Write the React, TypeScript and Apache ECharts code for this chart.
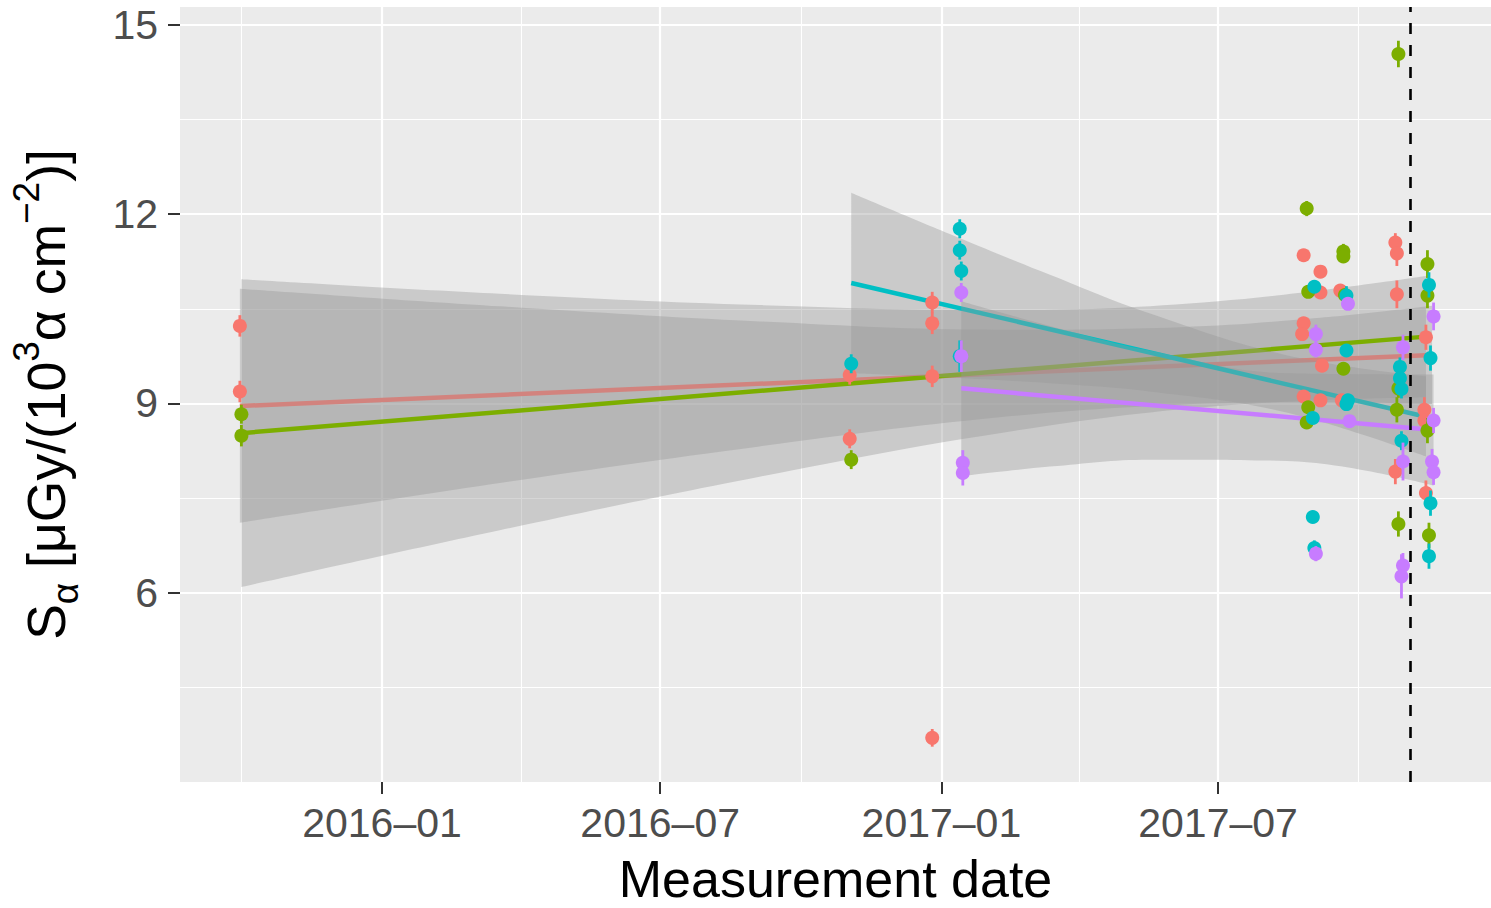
import React, { useEffect, useRef } from 'react';
import * as echarts from 'echarts';

const FONT = "'Liberation Sans', Arial, Helvetica, sans-serif";
const COLORS = ['#F8766D', '#7CAE00', '#00BFC4', '#C77CFF'];

// Axis ranges and ticks
const xMin = '2015-08-21T20';
const xMax = '2017-12-26T14';
const xTickDates = ['2016-01-01', '2016-07-01', '2017-01-01', '2017-07-01'];
const xTickLabels = ['2016–01', '2016–07', '2017–01', '2017–07'];
const xMinorDates = ['2015-10-01', '2016-04-01', '2016-10-01', '2017-04-01', '2017-10-01'];
const yMin = 3;
const yMax = 15.285;
const yTicks = [6, 9, 12, 15];
const cutoffDate = '2017-11-04';

// Group 1 (red)
const redDates = ['2015-09-30', '2015-09-30', '2016-11-02', '2016-11-02', '2016-12-26', '2016-12-26', '2016-12-26', '2016-12-26', '2017-08-26', '2017-09-06', '2017-09-06', '2017-09-19', '2017-08-26', '2017-08-25', '2017-09-07', '2017-08-26', '2017-09-06', '2017-09-20', '2017-10-25', '2017-10-26', '2017-10-26', '2017-10-25', '2017-11-14', '2017-11-13', '2017-11-13', '2017-11-14'];
const redValues = [10.23, 9.19, 9.45, 8.44, 10.6, 10.27, 9.43, 3.7, 11.35, 11.09, 10.76, 10.79, 10.27, 10.1, 9.6, 9.11, 9.05, 9.05, 11.55, 11.38, 10.73, 7.92, 10.05, 8.9, 8.73, 7.58];
const redErrors = [0.17, 0.17, 0.15, 0.15, 0.17, 0.17, 0.17, 0.14, 0.06, 0.06, 0.06, 0.06, 0.06, 0.06, 0.06, 0.06, 0.06, 0.06, 0.15, 0.2, 0.22, 0.2, 0.2, 0.2, 0.2, 0.2];
const redFitDates = ['2015-09-30', '2017-11-18'];
const redFitValues = [8.96, 9.77];
const redBandDates = ['2015-09-30', '2016-03-18', '2016-09-04', '2017-02-08', '2017-06-06', '2017-09-06', '2017-11-18'];
const redBandLower = [7.11, 7.74, 8.32, 8.78, 8.98, 9.02, 8.99];
const redBandUpper = [10.82, 10.54, 10.3, 10.17, 10.21, 10.36, 10.55];

// Group 2 (green)
const greenDates = ['2015-10-01', '2015-10-01', '2016-11-03', '2017-08-28', '2017-08-29', '2017-08-29', '2017-08-28', '2017-09-21', '2017-09-21', '2017-09-22', '2017-09-21', '2017-10-27', '2017-10-27', '2017-10-26', '2017-10-27', '2017-11-15', '2017-11-15', '2017-11-15', '2017-11-16'];
const greenValues = [8.83, 8.49, 8.11, 12.09, 10.77, 8.94, 8.7, 11.41, 11.33, 10.72, 9.55, 14.54, 9.24, 8.9, 7.09, 11.21, 10.71, 8.57, 6.91];
const greenErrors = [0.15, 0.17, 0.15, 0.12, 0.08, 0.06, 0.1, 0.12, 0.1, 0.1, 0.06, 0.21, 0.15, 0.2, 0.2, 0.22, 0.2, 0.2, 0.2];
const greenFitDates = ['2015-10-01', '2017-11-14'];
const greenFitValues = [8.53, 10.06];
const greenBandDates = ['2015-10-01', '2016-03-18', '2016-09-04', '2017-02-08', '2017-07-01', '2017-11-14'];
const greenBandLower = [6.09, 6.99, 7.84, 8.53, 8.96, 9.1];
const greenBandUpper = [10.97, 10.74, 10.56, 10.48, 10.62, 11.02];

// Group 3 (cyan)
const cyanDates = ['2016-11-03', '2017-01-13', '2017-01-13', '2017-01-14', '2017-01-13', '2017-09-02', '2017-09-01', '2017-09-01', '2017-09-02', '2017-09-23', '2017-09-23', '2017-09-24', '2017-09-23', '2017-10-28', '2017-10-28', '2017-10-29', '2017-10-29', '2017-11-16', '2017-11-17', '2017-11-17', '2017-11-16'];
const cyanValues = [9.63, 11.77, 11.43, 11.1, 9.75, 10.85, 8.77, 7.2, 6.71, 10.71, 9.84, 9.05, 8.99, 9.58, 9.4, 9.23, 8.41, 10.88, 9.72, 7.42, 6.58];
const cyanErrors = [0.15, 0.15, 0.15, 0.15, 0.25, 0.06, 0.06, 0.06, 0.12, 0.15, 0.06, 0.06, 0.06, 0.15, 0.15, 0.15, 0.15, 0.2, 0.2, 0.2, 0.2];
const cyanFitDates = ['2016-11-03', '2017-11-14'];
const cyanFitValues = [10.91, 8.79];
const cyanBandDates = ['2016-11-03', '2017-01-06', '2017-03-13', '2017-05-17', '2017-08-14', '2017-11-14'];
const cyanBandLower = [9.48, 9.41, 9.32, 9.19, 8.86, 8.16];
const cyanBandUpper = [12.34, 11.69, 11.04, 10.43, 9.77, 9.43];

// Group 4 (purple)
const purpleDates = ['2017-01-14', '2017-01-14', '2017-01-15', '2017-01-15', '2017-09-03', '2017-09-03', '2017-09-03', '2017-09-24', '2017-09-25', '2017-10-30', '2017-10-30', '2017-10-30', '2017-10-29', '2017-11-19', '2017-11-19', '2017-11-18', '2017-11-19'];
const purpleValues = [10.76, 9.75, 8.06, 7.9, 10.1, 9.85, 6.62, 10.58, 8.72, 9.89, 8.08, 6.43, 6.26, 10.38, 8.73, 8.08, 7.91];
const purpleErrors = [0.15, 0.25, 0.2, 0.2, 0.15, 0.12, 0.12, 0.1, 0.06, 0.2, 0.3, 0.2, 0.35, 0.22, 0.2, 0.2, 0.2];
const purpleFitDates = ['2017-01-14', '2017-11-19'];
const purpleFitValues = [9.24, 8.58];
const purpleBandDates = ['2017-01-14', '2017-03-13', '2017-05-17', '2017-08-15', '2017-11-19'];
const purpleBandLower = [7.85, 8.0, 8.11, 8.09, 7.7];
const purpleBandUpper = [10.62, 10.23, 9.84, 9.48, 9.46];

// 'YYYY-MM-DD' or 'YYYY-MM-DDTHH' -> ms timestamp (local time)
const toTime = (s: string) => {
  const [datePart, hourPart] = s.split('T');
  const [y, m, d] = datePart.split('-').map(Number);
  return new Date(y, m - 1, d, hourPart ? Number(hourPart) : 0).getTime();
};
const xTickTimes = xTickDates.map(toTime);

type Group = {
  name: string;
  color: string;
  dates: string[];
  values: number[];
  errors: number[];
  fitDates: string[];
  fitValues: number[];
  bandDates: string[];
  bandLower: number[];
  bandUpper: number[];
};

const groups: Group[] = [
  { name: 'g1', color: COLORS[0], dates: redDates, values: redValues, errors: redErrors, fitDates: redFitDates, fitValues: redFitValues, bandDates: redBandDates, bandLower: redBandLower, bandUpper: redBandUpper },
  { name: 'g2', color: COLORS[1], dates: greenDates, values: greenValues, errors: greenErrors, fitDates: greenFitDates, fitValues: greenFitValues, bandDates: greenBandDates, bandLower: greenBandLower, bandUpper: greenBandUpper },
  { name: 'g3', color: COLORS[2], dates: cyanDates, values: cyanValues, errors: cyanErrors, fitDates: cyanFitDates, fitValues: cyanFitValues, bandDates: cyanBandDates, bandLower: cyanBandLower, bandUpper: cyanBandUpper },
  { name: 'g4', color: COLORS[3], dates: purpleDates, values: purpleValues, errors: purpleErrors, fitDates: purpleFitDates, fitValues: purpleFitValues, bandDates: purpleBandDates, bandLower: purpleBandLower, bandUpper: purpleBandUpper },
];

function buildOption(): any {
  const series: any[] = [];

  const gridLines = [
    ...xTickDates.map((d) => ({ xAxis: toTime(d), lineStyle: { width: 2.2 } })),
    ...xMinorDates.map((d) => ({ xAxis: toTime(d), lineStyle: { width: 1.1 } })),
  ];

  groups.forEach((g, gi) => {
    const bandZ = 2 + gi * 2;
    const lower: any = {
      type: 'line',
      name: g.name + '-band-lower',
      xAxisIndex: 0,
      z: bandZ,
      stack: g.name + '-band',
      data: g.bandDates.map((d, i) => [toTime(d), g.bandLower[i]]),
      smooth: 0.4,
      symbol: 'none',
      lineStyle: { width: 0, opacity: 0 },
      silent: true,
    };
    if (gi === 0) {
      lower.markLine = {
        silent: true,
        z: 1,
        symbol: ['none', 'none'],
        label: { show: false },
        lineStyle: { color: '#FFFFFF', type: 'solid' },
        emphasis: { disabled: true },
        data: gridLines,
      };
    }
    series.push(lower);
    series.push({
      type: 'line',
      name: g.name + '-band',
      xAxisIndex: 0,
      z: bandZ,
      stack: g.name + '-band',
      data: g.bandDates.map((d, i) => [toTime(d), g.bandUpper[i] - g.bandLower[i]]),
      smooth: 0.4,
      symbol: 'none',
      lineStyle: { width: 0, opacity: 0 },
      areaStyle: { color: '#999999', opacity: 0.4 },
      silent: true,
    });
    series.push({
      type: 'line',
      name: g.name + '-fit',
      xAxisIndex: 0,
      z: bandZ + 1,
      data: g.fitDates.map((d, i) => [toTime(d), g.fitValues[i]]),
      symbol: 'none',
      lineStyle: { color: g.color, width: 4.5 },
      silent: true,
    });
  });

  groups.forEach((g, gi) => {
    const color = g.color;
    series.push({
      type: 'custom',
      name: g.name + '-err',
      xAxisIndex: 0,
      z: 20 + gi * 2,
      data: g.dates.map((d, i) => [toTime(d), g.values[i] - g.errors[i], g.values[i] + g.errors[i]]),
      encode: { x: 0, y: [1, 2] },
      silent: true,
      renderItem: (params: any, api: any) => {
        const x = api.value(0);
        const lo = api.coord([x, api.value(1)]);
        const hi = api.coord([x, api.value(2)]);
        return {
          type: 'line',
          shape: { x1: lo[0], y1: lo[1], x2: hi[0], y2: hi[1] },
          style: { stroke: color, lineWidth: 2.8 },
        };
      },
    });
    const pts: any = {
      type: 'scatter',
      name: g.name,
      xAxisIndex: 0,
      z: 21 + gi * 2,
      data: g.dates.map((d, i) => [toTime(d), g.values[i]]),
      symbol: 'circle',
      symbolSize: 14,
      itemStyle: { color, opacity: 1 },
      silent: true,
    };
    if (gi === groups.length - 1) {
      pts.markLine = {
        silent: true,
        z: 40,
        symbol: ['none', 'none'],
        label: { show: false },
        lineStyle: { color: '#000000', type: [11, 11], width: 2.6 },
        emphasis: { disabled: true },
        data: [{ xAxis: toTime(cutoffDate) }],
      };
    }
    series.push(pts);
  });

  return {
    animation: false,
    backgroundColor: '#FFFFFF',
    textStyle: { fontFamily: FONT },
    grid: {
      left: 180,
      right: 0,
      top: 7,
      bottom: 126,
      show: true,
      backgroundColor: '#EBEBEB',
      borderWidth: 0,
      containLabel: false,
      outerBoundsMode: 'none',
    },
    xAxis: [
      {
        type: 'time',
        min: toTime(xMin),
        max: toTime(xMax),
        show: false,
      },
      {
        type: 'value',
        position: 'bottom',
        min: toTime(xMin),
        max: toTime(xMax),
        name: 'Measurement date',
        nameLocation: 'middle',
        nameGap: 74,
        nameTextStyle: { fontFamily: FONT, fontSize: 52, lineHeight: 46, color: '#000000' },
        axisLine: { show: false },
        axisTick: { show: true, length: 12, lineStyle: { color: '#333333', width: 2 }, customValues: xTickTimes },
        axisLabel: {
          show: true,
          customValues: xTickTimes,
          margin: 20,
          fontFamily: FONT,
          fontSize: 41,
          color: '#4D4D4D',
          formatter: (v: number) => {
            const i = xTickTimes.indexOf(v);
            return i >= 0 ? xTickLabels[i] : '';
          },
        },
        splitLine: { show: false },
      },
    ],
    yAxis: {
      type: 'value',
      min: yMin,
      max: yMax,
      interval: 3,
      name: '{n|S}{sub|α}{n| [μGy/(10}{sup|3}{n|α cm}{sup|−2}{n|)]}',
      nameLocation: 'middle',
      nameRotate: 90,
      nameGap: 96,
      nameTextStyle: {
        fontFamily: FONT,
        fontSize: 53,
        color: '#000000',
        lineHeight: 76,
        rich: {
          n: { fontFamily: FONT, fontSize: 53.5, color: '#000000', lineHeight: 76 },
          sup: { fontFamily: FONT, fontSize: 37, color: '#000000', lineHeight: 28, verticalAlign: 'top' },
          sub: { fontFamily: FONT, fontSize: 37, color: '#000000', lineHeight: 42, verticalAlign: 'bottom' },
        },
      },
      axisLine: { show: false },
      axisTick: { show: true, length: 12, lineStyle: { color: '#333333', width: 2 }, customValues: yTicks },
      axisLabel: {
        show: true,
        customValues: yTicks,
        margin: 22,
        fontFamily: FONT,
        fontSize: 41,
        color: '#4D4D4D',
        formatter: (v: number) => (yTicks.indexOf(v) >= 0 ? String(v) : ''),
      },
      splitLine: { show: true, lineStyle: { color: '#FFFFFF', width: 2.2 } },
      minorTick: { show: false, splitNumber: 2 },
      minorSplitLine: { show: true, lineStyle: { color: '#FFFFFF', width: 1.1 } },
    },
    series,
  };
}

export default function App() {
  const ref = useRef<HTMLDivElement>(null);
  useEffect(() => {
    if (!ref.current) return;
    const chart = echarts.init(ref.current, undefined, { renderer: 'svg' });
    chart.setOption(buildOption());
    return () => {
      chart.dispose();
    };
  }, []);
  return (
    <div
      ref={ref}
      style={{ position: 'fixed', left: 0, top: 0, width: 1491, height: 908, background: '#FFFFFF' }}
    />
  );
}
